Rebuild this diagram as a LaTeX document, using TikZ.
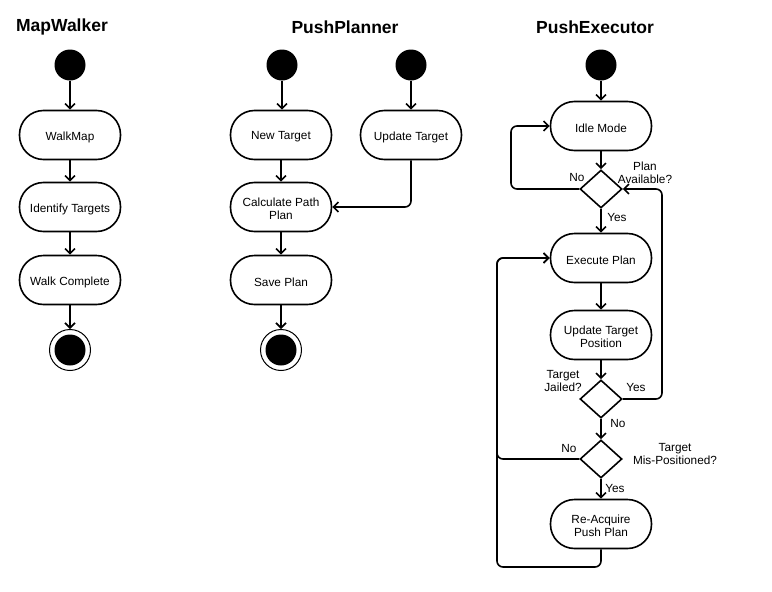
\documentclass[tikz,border=0pt]{standalone}
\usepackage{fontspec}
\setmainfont{Liberation Sans}
\usetikzlibrary{shapes.geometric,arrows.meta}
\begin{document}
\begin{tikzpicture}[x=1pt,y=-1pt,
  every node/.style={font=\fontsize{11.8}{12.5}\selectfont, text=black},
  act/.style={draw, line width=1.6pt, rounded corners=24pt, minimum width=101pt, minimum height=49pt, inner sep=0pt, fill=white,
     label={[align=center, inner sep=0pt, yshift=-2pt]center:#1}},
  dec/.style={draw, diamond, line width=1.6pt, minimum width=42pt, minimum height=38pt, inner sep=0pt},
  startnode/.style={circle, fill=black, minimum size=31pt, inner sep=0pt},
  endring/.style={circle, draw, line width=1pt, minimum size=41pt, inner sep=0pt},
  endcore/.style={circle, fill=black, minimum size=31pt, inner sep=0pt},
  title/.style={font=\fontsize{17.5}{20}\selectfont\bfseries},
  lbl/.style={align=center, inner sep=0pt},
  arr/.style={line width=1.6pt, rounded corners=6pt, -{Straight Barb[length=5pt,width=10pt]}}
]
\useasboundingbox (0,0) rectangle (772,592);

% ---------- MapWalker ----------
\node[title] (t1) at (62,27) {MapWalker};
\node[startnode] (s1) at (70,65) {};
\node[act={WalkMap}] (walk) at (70,135) {};
\node[act={Identify Targets}] (ident) at (70,207) {};
\node[act={Walk Complete}] (wcomp) at (70,280) {};
\node[endring] (e1) at (70,350) {};
\node[endcore] (e1c) at (70,350) {};
\draw[arr] (s1) -- (walk);
\draw[arr] (walk) -- (ident);
\draw[arr] (ident) -- (wcomp);
\draw[arr] (wcomp) -- (e1);

% ---------- PushPlanner ----------
\node[title] (t2) at (345,27) {PushPlanner};
\node[startnode] (s2) at (282,65) {};
\node[startnode] (s3) at (411,65) {};
\node[act={New Target}] (newt) at (281,135) {};
\node[act={Update Target}] (updt) at (411,135) {};
\node[act={{Calculate Path\\Plan}}] (calc) at (281,207) {};
\node[act={Save Plan}] (save) at (281,280) {};
\node[endring] (e2) at (281,350) {};
\node[endcore] (e2c) at (281,350) {};
\draw[arr] (s2) -- (newt.north -| s2);
\draw[arr] (s3) -- (updt);
\draw[arr] (newt) -- (calc);
\draw[arr] (updt.south) |- (calc.east);
\draw[arr] (calc) -- (save);
\draw[arr] (save) -- (e2);

% ---------- PushExecutor ----------
\node[title] (t3) at (595,27) {PushExecutor};
\node[startnode] (s4) at (601,65) {};
\node[act={Idle Mode}] (idle) at (601,126) {};
\node[dec] (d1) at (601,189) {};
\node[act={Execute Plan}] (exec) at (601,258) {};
\node[act={{Update Target\\Position}}] (utp) at (601,335) {};
\node[dec] (d2) at (601,399) {};
\node[dec] (d3) at (601,459) {};
\node[act={{Re-Acquire\\Push Plan}}] (reac) at (601,524) {};

\coordinate (lx1) at (511,0);
\coordinate (rx1) at (662,0);
\coordinate (bl) at (497,567);

\draw[arr] (s4) -- (idle);
\draw[arr] (idle) -- (d1);
\draw[arr] (d1) -- (exec);
\draw[arr] (exec) -- (utp);
\draw[arr] (utp) -- (d2);
\draw[arr] (d2) -- (d3);
\draw[arr] (d3) -- (reac);
\draw[arr] (d1.west) -- (d1.west -| lx1) |- (idle.west);
\draw[arr] (d2.east) -- (d2.east -| rx1) |- (d1.east);
\draw[arr] (d3.west) -- (d3.west -| bl) |- (exec.west);
\draw[arr] (reac.south) |- (bl) |- (exec.west);

% labels
\node[lbl] (l1) at (577,177) {No};
\node[lbl] (l2) at (645,173) {Plan\\Available?};
\node[lbl] (l3) at (617,217) {Yes};
\node[lbl] (l4) at (563,381) {Target\\Jailed?};
\node[lbl] (l5) at (636,387) {Yes};
\node[lbl] (l6) at (618,423) {No};
\node[lbl] (l7) at (569,448) {No};
\node[lbl] (l8) at (675,454) {Target\\Mis-Positioned?};
\node[lbl] (l9) at (615,488) {Yes};
\end{tikzpicture}
\end{document}
